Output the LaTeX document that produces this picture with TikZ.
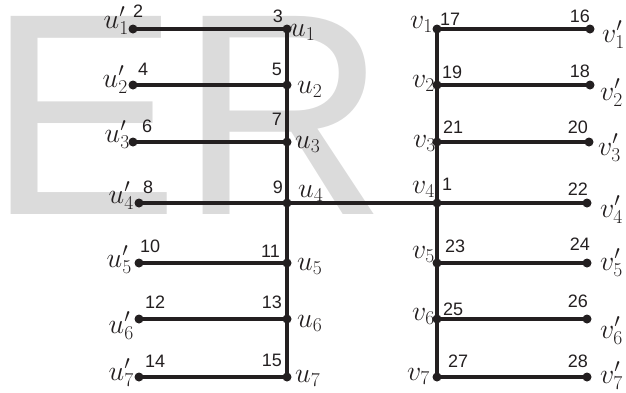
\RequirePackage{fix-cm}
\documentclass[tikz,border=0pt]{standalone}
\usepackage{fontspec}
\newfontfamily\arialf{Liberation Sans}
\definecolor{ink}{RGB}{35,31,32}

\begin{document}
\begin{tikzpicture}[x=1pt, y=-1pt,
    dot/.style={circle, fill=ink, inner sep=0pt, minimum size=9pt},
    edge/.style={ink, line width=3.1pt},
    num/.style={inner sep=0pt, text=ink, font=\arialf\fontsize{18}{18}\selectfont},
    lab/.style={inner sep=0pt, text=ink, font=\fontsize{28}{30}\selectfont}]
    \useasboundingbox (0,0) rectangle (626,392);

    % Grey letters behind
    \node[anchor=base west, inner sep=0pt, text=black!14,
          font=\arialf\fontsize{288}{288}\selectfont] (mark) at (-13,214) {ER};

    % Left tree
    \node[dot] (u1p) at (133,29) {};
    \node[dot] (u2p) at (133,85) {};
    \node[dot] (u3p) at (133,142) {};
    \node[dot] (u4p) at (139,203) {};
    \node[dot] (u5p) at (139,263) {};
    \node[dot] (u6p) at (139,319) {};
    \node[dot] (u7p) at (139,377) {};
    \node[dot] (u1) at (287,29) {};
    \node[dot] (u2) at (287,85) {};
    \node[dot] (u3) at (287,142) {};
    \node[dot] (u4) at (287,203) {};
    \node[dot] (u5) at (287,263) {};
    \node[dot] (u6) at (287,319) {};
    \node[dot] (u7) at (287,377) {};

    % Right tree
    \node[dot] (v1) at (437,29) {};
    \node[dot] (v2) at (437,85) {};
    \node[dot] (v3) at (437,142) {};
    \node[dot] (v4) at (437,203) {};
    \node[dot] (v5) at (437,263) {};
    \node[dot] (v6) at (437,319) {};
    \node[dot] (v7) at (437,377) {};
    \node[dot] (v1p) at (590,29) {};
    \node[dot] (v2p) at (590,85) {};
    \node[dot] (v3p) at (589,142) {};
    \node[dot] (v4p) at (587,203) {};
    \node[dot] (v5p) at (587,263) {};
    \node[dot] (v6p) at (587,319) {};
    \node[dot] (v7p) at (587,377) {};

    % Edges
    \draw[edge] (u1.center) -- (u7.center);
    \draw[edge] (v1.center) -- (v7.center);
    \draw[edge] (u1p.center) -- (u1.center);
    \draw[edge] (u2p.center) -- (u2.center);
    \draw[edge] (u3p.center) -- (u3.center);
    \draw[edge] (u4p.center) -- (u4.center) -- (v4.center) -- (v4p.center);
    \draw[edge] (u5p.center) -- (u5.center);
    \draw[edge] (u6p.center) -- (u6.center);
    \draw[edge] (u7p.center) -- (u7.center);
    \draw[edge] (v1.center) -- (v1p.center);
    \draw[edge] (v2.center) -- (v2p.center);
    \draw[edge] (v3.center) -- (v3p.center);
    \draw[edge] (v5.center) -- (v5p.center);
    \draw[edge] (v6.center) -- (v6p.center);
    \draw[edge] (v7.center) -- (v7p.center);

    % Vertex names
    \node[lab, anchor=base east] (lu1p) at (129,28) {$u'_1$};
    \node[lab, anchor=base east] (lu2p) at (128,87) {$u'_2$};
    \node[lab, anchor=base east] (lu3p) at (130,142) {$u'_3$};
    \node[lab, anchor=base east] (lu4p) at (134,203) {$u'_4$};
    \node[lab, anchor=base east] (lu5p) at (132,267) {$u'_5$};
    \node[lab, anchor=base east] (lu6p) at (134,333) {$u'_6$};
    \node[lab, anchor=base east] (lu7p) at (134,380) {$u'_7$};
    \node[lab, anchor=base west] (lu1) at (290,36) {$u_1$};
    \node[lab, anchor=base west] (lu2) at (297,93) {$u_2$};
    \node[lab, anchor=base west] (lu3) at (295,148) {$u_3$};
    \node[lab, anchor=base west] (lu4) at (298,197) {$u_4$};
    \node[lab, anchor=base west] (lu5) at (297,270) {$u_5$};
    \node[lab, anchor=base west] (lu6) at (297,327) {$u_6$};
    \node[lab, anchor=base west] (lu7) at (295,382) {$u_7$};
    \node[lab, anchor=base east] (lv1) at (433,28) {$v_1$};
    \node[lab, anchor=base east] (lv2) at (435,87) {$v_2$};
    \node[lab, anchor=base east] (lv3) at (436,147) {$v_3$};
    \node[lab, anchor=base east] (lv4) at (435,193) {$v_4$};
    \node[lab, anchor=base east] (lv5) at (435,258) {$v_5$};
    \node[lab, anchor=base east] (lv6) at (435,320) {$v_6$};
    \node[lab, anchor=base east] (lv7) at (430,380) {$v_7$};
    \node[lab, anchor=base west] (lv1p) at (602,42) {$v'_1$};
    \node[lab, anchor=base west] (lv2p) at (600,100) {$v'_2$};
    \node[lab, anchor=base west] (lv3p) at (598,155) {$v'_3$};
    \node[lab, anchor=base west] (lv4p) at (600,217) {$v'_4$};
    \node[lab, anchor=base west] (lv5p) at (600,270) {$v'_5$};
    \node[lab, anchor=base west] (lv6p) at (600,338) {$v'_6$};
    \node[lab, anchor=base west] (lv7p) at (600,383) {$v'_7$};

    % Numbers
    \node[num, anchor=base west] (n2) at (133,17) {2};
    \node[num, anchor=base west] (n4) at (138,75) {4};
    \node[num, anchor=base west] (n6) at (142,132) {6};
    \node[num, anchor=base west] (n8) at (143,193) {8};
    \node[num, anchor=base west] (n10) at (140,252) {10};
    \node[num, anchor=base west] (n12) at (145,308) {12};
    \node[num, anchor=base west] (n14) at (145,367) {14};
    \node[num, anchor=base east] (n3) at (283,22) {3};
    \node[num, anchor=base east] (n5) at (282,75) {5};
    \node[num, anchor=base east] (n7) at (282,125) {7};
    \node[num, anchor=base east] (n9) at (283,193) {9};
    \node[num, anchor=base east] (n11) at (280,257) {11};
    \node[num, anchor=base east] (n13) at (282,308) {13};
    \node[num, anchor=base east] (n15) at (282,366) {15};
    \node[num, anchor=base west] (n17) at (440,25) {17};
    \node[num, anchor=base west] (n19) at (442,78) {19};
    \node[num, anchor=base west] (n21) at (443,133) {21};
    \node[num, anchor=base west] (n1) at (442,190) {1};
    \node[num, anchor=base west] (n23) at (445,252) {23};
    \node[num, anchor=base west] (n25) at (443,315) {25};
    \node[num, anchor=base west] (n27) at (448,367) {27};
    \node[num, anchor=base east] (n16) at (590,22) {16};
    \node[num, anchor=base east] (n18) at (590,77) {18};
    \node[num, anchor=base east] (n20) at (588,133) {20};
    \node[num, anchor=base east] (n22) at (588,195) {22};
    \node[num, anchor=base east] (n24) at (590,250) {24};
    \node[num, anchor=base east] (n26) at (588,307) {26};
    \node[num, anchor=base east] (n28) at (588,367) {28};
\end{tikzpicture}
\end{document}
